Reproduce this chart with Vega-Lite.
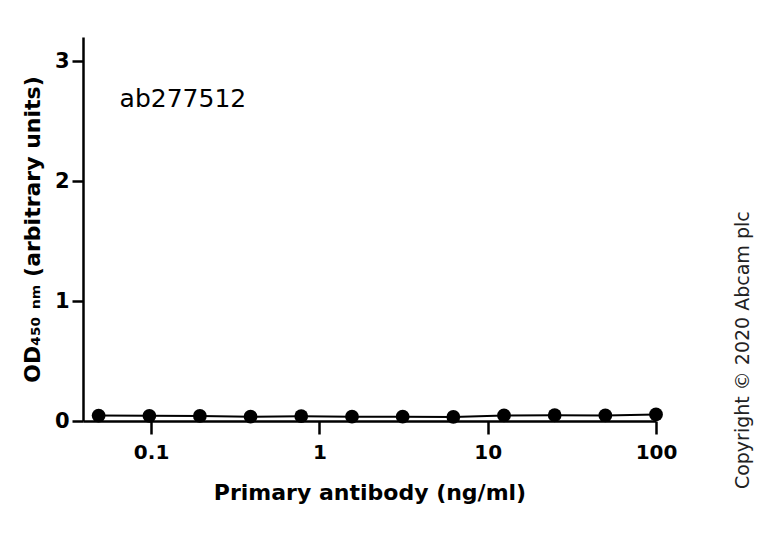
{
  "$schema": "https://vega.github.io/schema/vega-lite/v6.json",
  "autosize": {"type": "none"},
  "width": 573,
  "height": 384,
  "padding": {"left": 83, "top": 37, "right": 112, "bottom": 135},
  "background": "white",
  "config": {
    "view": {"stroke": null},
    "font": "DejaVu Sans"
  },
  "datasets": {
    "pts": [
      {"conc": 0.0488, "od": 0.045},
      {"conc": 0.0977, "od": 0.043},
      {"conc": 0.195, "od": 0.042},
      {"conc": 0.39, "od": 0.036},
      {"conc": 0.78, "od": 0.040},
      {"conc": 1.5625, "od": 0.036},
      {"conc": 3.125, "od": 0.036},
      {"conc": 6.25, "od": 0.034},
      {"conc": 12.5, "od": 0.046},
      {"conc": 25, "od": 0.048},
      {"conc": 50, "od": 0.046},
      {"conc": 100, "od": 0.055}
    ],
    "labels": [
      {"conc": 0.065, "od": 2.68, "label": "ab277512"}
    ],
    "copy": [
      {"conc": 330, "od": 0.59, "label": "Copyright © 2020 Abcam plc"}
    ]
  },
  "layer": [
    {
      "data": {"name": "pts"},
      "mark": {"type": "line", "color": "black", "strokeWidth": 2},
      "encoding": {
        "x": {
          "field": "conc", "type": "quantitative",
          "scale": {"type": "log", "domain": [0.0394, 100], "nice": false},
          "axis": {
            "values": [0.1, 1, 10, 100],
            "labelExpr": "datum.value >= 1 ? format(datum.value, 'd') : format(datum.value, '.1f')",
            "title": "Primary antibody (ng/ml)",
            "titleFontSize": 22, "titleFontWeight": "bold", "titleColor": "black",
            "titlePadding": 20,
            "labelFontSize": 20, "labelFontWeight": "bold", "labelColor": "black",
            "labelPadding": 8, "labelFlush": false,
            "tickSize": 13, "tickWidth": 2.5, "tickColor": "black",
            "domainColor": "black", "domainWidth": 2.5,
            "grid": false
          }
        },
        "y": {
          "field": "od", "type": "quantitative",
          "scale": {"domain": [0, 3.2], "nice": false},
          "axis": {
            "values": [0, 1, 2, 3],
            "format": "d",
            "title": "OD₄₅₀ ₙₘ (arbitrary units)",
            "titleFontSize": 22, "titleFontWeight": "bold", "titleColor": "black",
            "titlePadding": 10,
            "labelFontSize": 21, "labelFontWeight": "bold", "labelColor": "black",
            "labelPadding": 3,
            "tickSize": 11, "tickWidth": 2.5, "tickColor": "black",
            "domainColor": "black", "domainWidth": 2.5,
            "grid": false
          }
        }
      }
    },
    {
      "data": {"name": "pts"},
      "mark": {"type": "point", "filled": true, "color": "black", "size": 190, "opacity": 1, "shape": "circle"},
      "encoding": {
        "x": {"field": "conc", "type": "quantitative"},
        "y": {"field": "od", "type": "quantitative"}
      }
    },
    {
      "data": {"name": "labels"},
      "mark": {"type": "text", "align": "left", "baseline": "middle", "fontSize": 25, "color": "black", "font": "DejaVu Sans"},
      "encoding": {
        "x": {"field": "conc", "type": "quantitative"},
        "y": {"field": "od", "type": "quantitative"},
        "text": {"field": "label"}
      }
    },
    {
      "data": {"name": "copy"},
      "mark": {"type": "text", "align": "center", "baseline": "middle", "angle": 270, "fontSize": 19, "color": "#222", "clip": false},
      "encoding": {
        "x": {"field": "conc", "type": "quantitative"},
        "y": {"field": "od", "type": "quantitative"},
        "text": {"field": "label"}
      }
    }
  ]
}
